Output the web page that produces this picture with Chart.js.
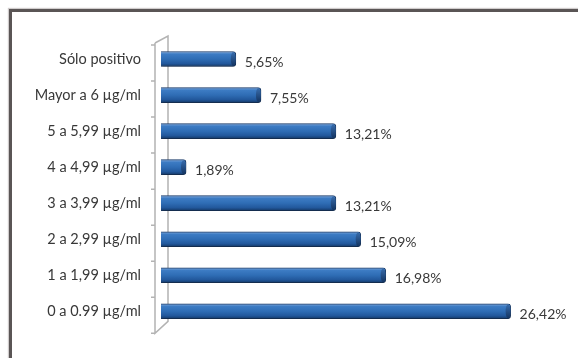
<!DOCTYPE html>
<html>
<head>
<meta charset="utf-8">
<script src="https://cdn.jsdelivr.net/npm/chart.js@4.4.1/dist/chart.umd.min.js"></script>
<style>
  html, body { margin: 0; padding: 0; background: #ffffff; overflow: hidden; }
  #wrap { position: relative; width: 578px; height: 358px; overflow: hidden; }
  #frame {
    position: absolute; left: 9px; top: 9px; width: 700px; height: 500px;
    box-sizing: border-box; border: 3px solid #5a5555;
    box-shadow: 0 0 1px 1px rgba(120,110,110,0.35);
  }
  #box { position: absolute; left: 0; top: 0; width: 578px; height: 358px; }
</style>
</head>
<body>
<div id="wrap">
  <div id="frame"></div>
  <div id="box"><canvas id="chart"></canvas></div>
</div>
<script>
// Concentration ranges (top to bottom) and share of samples in each, in %
const categories = [
  'Sólo positivo',
  'Mayor a 6 µg/ml',
  '5 a 5,99 µg/ml',
  '4 a 4,99 µg/ml',
  '3 a 3,99 µg/ml',
  '2 a 2,99 µg/ml',
  '1 a 1,99 µg/ml',
  '0 a 0.99 µg/ml'
];
const percentages = [5.65, 7.55, 13.21, 1.89, 13.21, 15.09, 16.98, 26.42];

const fontFamily = 'Lato, "Open Sans", sans-serif';
const textColor = '#383838';

// Cylinder-like shading across each bar's thickness
function barGradient(ctx) {
  const chart = ctx.chart;
  const yScale = chart.scales.y;
  if (!yScale || ctx.dataIndex === undefined) return '#2f6db5';
  const yc = yScale.getPixelForValue(ctx.dataIndex);
  if (!isFinite(yc)) return '#2f6db5';
  const g = chart.ctx.createLinearGradient(0, yc - 7, 0, yc + 7);
  g.addColorStop(0, '#7ea8dc');
  g.addColorStop(0.14, '#3d7cc4');
  g.addColorStop(0.5, '#2f6db5');
  g.addColorStop(0.82, '#22589c');
  g.addColorStop(1, '#173e70');
  return g;
}

// Left "wall" of the 3-D plot area with its category ticks
const wallPlugin = {
  id: 'wall',
  beforeDatasetsDraw(chart) {
    const { ctx, chartArea } = chart;
    const y = chart.scales.y;
    const L = chartArea.left;
    const top = chartArea.top, bottom = chartArea.bottom;
    const fx = L - 6, bx = L + 7;
    ctx.save();
    ctx.strokeStyle = '#b3b3b3';
    ctx.lineWidth = 1.5;
    ctx.beginPath();
    ctx.moveTo(fx, top + 2);
    ctx.lineTo(fx, bottom + 4);
    ctx.lineTo(bx, bottom - 8);
    ctx.lineTo(bx, top - 5);
    ctx.lineTo(fx, top + 2);
    ctx.stroke();
    ctx.beginPath();
    for (let i = 0; i <= categories.length; i++) {
      const ty = y.getPixelForValue(i - 0.5) + 4;
      ctx.moveTo(fx - 4, ty);
      ctx.lineTo(fx, ty);
    }
    ctx.stroke();
    ctx.restore();
    // soft drop shadow under the bars
    ctx.save();
    ctx.shadowColor = 'rgba(0,0,0,0.3)';
    ctx.shadowBlur = 3;
    ctx.shadowOffsetX = 1;
    ctx.shadowOffsetY = 2;
  },
  afterDatasetsDraw(chart) {
    const { ctx } = chart;
    ctx.restore();
    const meta = chart.getDatasetMeta(0);
    ctx.save();
    // dark rounded end cap on each bar
    meta.data.forEach((bar) => {
      const h = bar.height / 2;
      if (!isFinite(bar.y) || !isFinite(h)) return;
      const g = ctx.createLinearGradient(0, bar.y - h, 0, bar.y + h);
      g.addColorStop(0, '#3a6fb0');
      g.addColorStop(1, '#12325e');
      ctx.fillStyle = g;
      ctx.beginPath();
      ctx.ellipse(bar.x - 2.5, bar.y, 2.5, h - 0.5, 0, 0, Math.PI * 2);
      ctx.fill();
    });
    // value labels
    ctx.fillStyle = textColor;
    ctx.font = '14px ' + fontFamily;
    ctx.textAlign = 'left';
    ctx.textBaseline = 'middle';
    meta.data.forEach((bar, i) => {
      const txt = percentages[i].toFixed(2).replace('.', ',') + '%';
      ctx.fillText(txt, bar.x + 9, bar.y + 3);
    });
    ctx.restore();
  }
};

new Chart(document.getElementById('chart'), {
  type: 'bar',
  data: {
    labels: categories,
    datasets: [{
      data: percentages,
      backgroundColor: barGradient,
      borderColor: '#1b3d6b',
      borderWidth: 1,
      borderRadius: 3,
      borderSkipped: 'left',
      barThickness: 15
    }]
  },
  options: {
    indexAxis: 'y',
    responsive: true,
    maintainAspectRatio: false,
    animation: false,
    events: [],
    layout: { padding: { left: 0, top: 41, right: 20, bottom: 23 } },
    plugins: {
      legend: { display: false },
      tooltip: { enabled: false }
    },
    scales: {
      x: {
        display: false,
        min: 0,
        max: 30
      },
      y: {
        grid: { display: false, drawTicks: false },
        border: { display: false },
        ticks: {
          color: textColor,
          font: { family: fontFamily, size: 14.5 },
          padding: 20
        },
        afterFit(scale) { scale.width = 161; }
      }
    }
  },
  plugins: [wallPlugin]
});
</script>
</body>
</html>
